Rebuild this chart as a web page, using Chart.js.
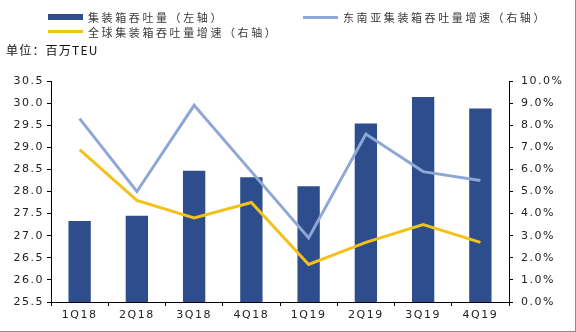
<!DOCTYPE html>
<html>
<head>
<meta charset="utf-8">
<script src="https://cdn.jsdelivr.net/npm/chart.js@4"></script>
<style>
  html, body { margin: 0; padding: 0; background: #fff; }
  #wrap { position: relative; width: 576px; height: 332px; overflow: hidden; }
  #chart { position: absolute; left: 0; top: 0; }
  .lg { position: absolute; font-family: "Noto Sans CJK SC", sans-serif; font-size: 11px; line-height: 14px;
        color: #3a3a3a; letter-spacing: 2.6px; white-space: nowrap; }
  .sw { position: absolute; }
  #unit { position: absolute; left: 6px; top: 43px; font-family: "Noto Sans CJK SC", sans-serif; font-size: 12px;
          line-height: 14px; color: #111; letter-spacing: 1.2px; white-space: nowrap; }
  .edge { position: absolute; background: #8c8c8c; }
</style>
</head>
<body>
<div id="wrap">
  <canvas id="chart" width="576" height="332"></canvas>
  <div class="sw" style="left:48px;top:14px;width:35px;height:6px;background:#2d4d8c"></div>
  <div class="lg" style="left:88px;top:10px">集装箱吞吐量（左轴）</div>
  <div class="sw" style="left:303px;top:16px;width:35px;height:3px;background:#8fa7d6"></div>
  <div class="lg" style="left:343px;top:10px">东南亚集装箱吞吐量增速（右轴）</div>
  <div class="sw" style="left:48px;top:30px;width:35px;height:3px;background:#f2c21b"></div>
  <div class="lg" style="left:88px;top:25px">全球集装箱吞吐量增速（右轴）</div>
  <div id="unit">单位：百万TEU</div>
  <div class="edge" style="right:0;top:0;width:1px;height:332px"></div>
  <div class="edge" style="left:0;bottom:0;width:576px;height:1px"></div>
</div>
<script>
// 数据
const categories = ['1Q18', '2Q18', '3Q18', '4Q18', '1Q19', '2Q19', '3Q19', '4Q19'];
const throughput = [27.33, 27.45, 28.47, 28.32, 28.12, 29.54, 30.14, 29.88];   // 百万TEU，左轴
const seAsiaGrowth = [8.3, 5.0, 8.9, 5.9, 2.9, 7.6, 5.9, 5.5];                  // %，右轴
const globalGrowth = [6.9, 4.6, 3.8, 4.5, 1.7, 2.7, 3.5, 2.7];                  // %，右轴

const leftTicks = { min: 25.5, max: 30.5, step: 0.5 };
const rightTicks = { min: 0, max: 10, step: 1 };

const tickFont = { family: 'DejaVu Sans', size: 11 };

// canvas 的字间距，每次布局和绘制前设置
const spacing = {
    id: 'spacing',
    beforeLayout: function(chart) { chart.ctx.letterSpacing = '1.5px'; },
    beforeDraw: function(chart) { chart.ctx.letterSpacing = '1.5px'; }
};

const axisGrid = {
    drawOnChartArea: false,
    drawTicks: true,
    tickLength: 4,
    color: '#000',
    lineWidth: 1
};

new Chart(document.getElementById('chart'), {
    type: 'bar',
    data: {
        labels: categories,
        datasets: [
            {
                type: 'line',
                label: '东南亚集装箱吞吐量增速（右轴）',
                data: seAsiaGrowth,
                yAxisID: 'y1',
                borderColor: '#8fa7d6',
                borderWidth: 3,
                pointRadius: 0,
                tension: 0,
                order: 1
            },
            {
                type: 'line',
                label: '全球集装箱吞吐量增速（右轴）',
                data: globalGrowth,
                yAxisID: 'y1',
                borderColor: '#f2c21b',
                borderWidth: 3,
                pointRadius: 0,
                tension: 0,
                order: 0
            },
            {
                type: 'bar',
                label: '集装箱吞吐量（左轴）',
                data: throughput,
                yAxisID: 'y',
                backgroundColor: '#2d4d8c',
                barPercentage: 0.39,
                categoryPercentage: 1,
                order: 2
            }
        ]
    },
    options: {
        responsive: false,
        devicePixelRatio: 1,
        animation: false,
        layout: { padding: { top: 81, left: 0, right: 0, bottom: 0 } },
        plugins: {
            legend: { display: false },
            tooltip: { enabled: false }
        },
        scales: {
            x: {
                grid: Object.assign({}, axisGrid, { offset: true }),
                border: { display: true, color: '#000', width: 1 },
                ticks: { color: '#222', font: tickFont, padding: 3, maxRotation: 0 },
                afterFit: function(s) { s.height = 30; }
            },
            y: {
                position: 'left',
                min: leftTicks.min,
                max: leftTicks.max,
                grid: axisGrid,
                border: { display: true, color: '#000', width: 1 },
                ticks: {
                    stepSize: leftTicks.step,
                    color: '#222',
                    font: tickFont,
                    padding: 3,
                    callback: function(v) { return Number(v).toFixed(1); }
                },
                afterFit: function(s) { s.width = 51; }
            },
            y1: {
                position: 'right',
                min: rightTicks.min,
                max: rightTicks.max,
                grid: axisGrid,
                border: { display: true, color: '#000', width: 1 },
                ticks: {
                    stepSize: rightTicks.step,
                    color: '#222',
                    font: tickFont,
                    padding: 8,
                    callback: function(v) { return Number(v).toFixed(1) + '%'; }
                },
                afterFit: function(s) { s.width = 67; }
            }
        }
    },
    plugins: [spacing]
});
</script>
</body>
</html>
